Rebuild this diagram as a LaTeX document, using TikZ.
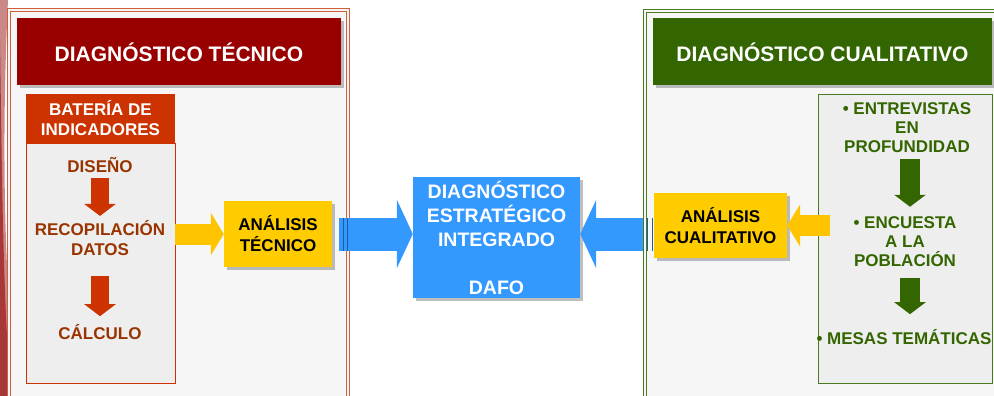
\documentclass[tikz,border=0pt]{standalone}
\usepackage{fontspec}
\setmainfont{Liberation Sans}
\usetikzlibrary{arrows.meta,shadows}

\begin{document}
\begin{tikzpicture}[x=1pt,y=-1pt,
  titlebox/.style={rectangle,text=white,font=\fontsize{21}{24}\selectfont\bfseries,minimum height=67,
    drop shadow={shadow xshift=3pt,shadow yshift=-3pt,fill=black!50,opacity=0.5}},
  sidebox/.style={rectangle,fill=boxgray,minimum width=149},
  tectext/.style={text=tecbrown,align=center,inner sep=0,font=\fontsize{17}{20.5}\selectfont\bfseries},
  cualtext/.style={text=cualgreen,align=center,inner sep=0,font=\fontsize{17}{19}\selectfont\bfseries},
  yellowbox/.style={rectangle,fill=anayellow,align=center,font=\fontsize{17}{21}\selectfont\bfseries,
    drop shadow={shadow xshift=3pt,shadow yshift=-3pt,fill=black!50,opacity=0.5}},
  downarrow/.style={line width=18pt,-{Triangle[length=12pt,width=31pt]}},
  yellowarrow/.style={anayellow!90!orange,line width=21pt,-{Triangle[length=13pt,width=42pt]}},
  bluearrow/.style={dafoblue,line width=33pt,-{Triangle[length=16pt,width=68pt]}}]
\definecolor{tecred}{HTML}{990000}
\definecolor{tecorange}{HTML}{CC3300}
\definecolor{tecbrown}{HTML}{993300}
\definecolor{tecframe}{HTML}{D0603C}
\definecolor{cualgreen}{HTML}{336600}
\definecolor{cualframe}{HTML}{4A7A20}
\definecolor{anayellow}{HTML}{FFCC00}
\definecolor{dafoblue}{HTML}{3399FF}
\definecolor{boxgray}{HTML}{EEEEEE}
\definecolor{panelbg}{HTML}{F6F6F6}
\definecolor{decored}{HTML}{A83838}
\fill[white] (0,0) rectangle (994,396);
\useasboundingbox (0,0) rectangle (994,396);
% slide ribbon
\fill[decored!60] (0,0) -- (8,0) .. controls (2,130) and (3,260) .. (16,396) -- (0,396) -- cycle;
\fill[decored] (0,40) .. controls (2,180) and (3,300) .. (11,396) -- (0,396) -- cycle;
% panels
\draw[tecframe,fill=panelbg] (7,8) rectangle (349,400);
\draw[tecframe] (10,11) rectangle (346,400);
\draw[cualframe,fill=panelbg] (643,9) rectangle (1000,400);
\draw[cualframe] (646,12) rectangle (1000,400);

% tecnico
\node[titlebox,fill=tecred,minimum width=324] (ttec) at (179,52) {DIAGNÓSTICO TÉCNICO};
\node[sidebox,draw=tecorange,minimum height=240] (batbody) at (100.5,263) {};
\node[rectangle,fill=tecorange,text=white,minimum width=149,minimum height=49,align=center,
  font=\fontsize{17}{20}\selectfont\bfseries] (bat) at (100.5,118.5) {BATERÍA DE\\INDICADORES};
\node[tectext] (diseno) at (100,165) {DISEÑO};
\node[tectext] (recop) at (100,238) {RECOPILACIÓN\\DATOS};
\node[tectext] (calculo) at (100,332) {CÁLCULO};
\draw[downarrow,tecorange,shorten <=5pt,shorten >=4pt] (diseno.south) -- (recop.north);
\draw[downarrow,tecorange,shorten <=20pt,shorten >=8pt] (recop.south) -- (calculo.north);
\node[yellowbox,minimum width=108,minimum height=66] (ant) at (278,234) {ANÁLISIS\\TÉCNICO};
\draw[yellowarrow] (batbody.east |- ant.west) -- (ant.west);

% dafo
\node[rectangle,fill=dafoblue,text=white,minimum width=167,minimum height=121,align=center,
  font=\fontsize{19.5}{24}\selectfont\bfseries,
  drop shadow={shadow xshift=3pt,shadow yshift=-3pt,fill=black!50,opacity=0.5}] (dafo) at (496.5,237.5)
  {DIAGNÓSTICO\\ESTRATÉGICO\\INTEGRADO\\[24pt]DAFO};

% cualitativo
\node[titlebox,fill=cualgreen,minimum width=339] (tcual) at (822.5,52) {DIAGNÓSTICO CUALITATIVO};
\node[sidebox,draw=cualframe,minimum width=174,minimum height=289] (qbody) at (905,238.5) {};
\node[cualtext] (entrev) at (907,128) {• ENTREVISTAS\\EN\\PROFUNDIDAD};
\node[cualtext] (encuesta) at (905,242) {• ENCUESTA\\A LA\\POBLACIÓN};
\node[cualtext] (mesas) at (904,337) {• MESAS TEMÁTICAS};
\draw[downarrow,cualgreen,line width=20pt,shorten <=6pt,shorten >=10pt] (entrev.south -| 910,0) -- (encuesta.north -| 910,0);
\draw[downarrow,cualgreen,line width=20pt,shorten <=11pt,shorten >=15pt] (encuesta.south -| 910,0) -- (mesas.north -| 910,0);
\node[yellowbox,minimum width=133,minimum height=65] (anq) at (720.5,225.5) {ANÁLISIS\\CUALITATIVO};
\draw[yellowarrow,shorten <=-12pt] (qbody.west |- anq.east) -- (anq.east);

% flechas al dafo
\draw[bluearrow,shorten <=7pt] (ant.east) -- (dafo.west |- ant.east);
\draw[bluearrow,shorten <=11pt] (anq.west |- ant.east) -- (dafo.east |- ant.east);
\foreach \dx in {11.5,15.5}
  \draw[dafoblue!60!black,line width=0.6pt] ([xshift=\dx pt,yshift=16.5pt]ant.east) -- ++(0,33);
\foreach \dx in {-6.5,-1.5}
  \draw[dafoblue!60!black,line width=0.6pt] ([xshift=\dx pt,yshift=16.5pt]anq.west |- ant.east) -- ++(0,33);
\end{tikzpicture}
\end{document}
